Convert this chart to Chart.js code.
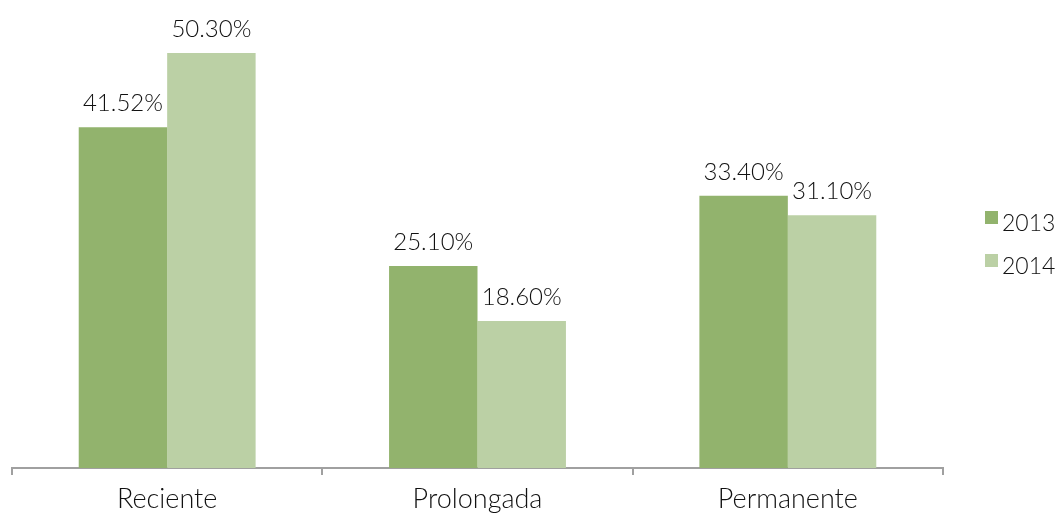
<!DOCTYPE html>
<html>
<head>
<meta charset="utf-8">
<script src="https://cdn.jsdelivr.net/npm/chart.js@4/dist/chart.umd.min.js"></script>
<style>
html,body{margin:0;padding:0;background:#fff;}
#wrap{width:1059px;height:513px;position:relative;}
</style>
</head>
<body>
<div id="wrap"><canvas id="c" width="1059" height="513"></canvas></div>
<script>
const categories = ["Reciente", "Prolongada", "Permanente"];
const seriesNames = ["2013", "2014"];
const values2013 = [41.52, 25.10, 33.40];
const values2014 = [50.30, 18.60, 31.10];
const labels2013 = ["41.52%", "25.10%", "33.40%"];
const labels2014 = ["50.30%", "18.60%", "31.10%"];

const COL13 = "#92B36D";
const COL14 = "#BBD0A5";
const FONT = "Lato, 'Open Sans', sans-serif";

const valueLabels = {
  id: "valueLabels",
  afterDatasetsDraw(chart) {
    const ctx = chart.ctx;
    const texts = [labels2013, labels2014];
    ctx.save();
    ctx.font = "300 24px " + FONT;
    ctx.fillStyle = "#111";
    ctx.textAlign = "center";
    ctx.textBaseline = "alphabetic";
    chart.data.datasets.forEach((ds, i) => {
      const meta = chart.getDatasetMeta(i);
      meta.data.forEach((bar, j) => {
        ctx.fillText(texts[i][j], bar.x, bar.y - 16);
      });
    });
    ctx.restore();
  }
};

const sideLegend = {
  id: "sideLegend",
  afterDraw(chart) {
    const ctx = chart.ctx;
    const x0 = chart.chartArea.right + 42;
    const ys = [211, 254];
    const cols = [COL13, COL14];
    ctx.save();
    ctx.font = "300 23px " + FONT;
    ctx.textBaseline = "alphabetic";
    seriesNames.forEach((n, i) => {
      ctx.fillStyle = cols[i];
      ctx.fillRect(x0, ys[i], 13, 13);
      ctx.fillStyle = "#111";
      ctx.fillText(n, x0 + 17, ys[i] + 20);
    });
    ctx.restore();
  }
};

new Chart(document.getElementById("c"), {
  type: "bar",
  data: {
    labels: categories,
    datasets: [
      { label: seriesNames[0], data: values2013, backgroundColor: COL13, borderWidth: 0 },
      { label: seriesNames[1], data: values2014, backgroundColor: COL14, borderWidth: 0 }
    ]
  },
  options: {
    responsive: false,
    animation: false,
    devicePixelRatio: 1,
    layout: { padding: { left: 12, right: 116, top: 20, bottom: 0 } },
    datasets: { bar: { barPercentage: 1.0, categoryPercentage: 0.57 } },
    plugins: { legend: { display: false }, tooltip: { enabled: false } },
    scales: {
      x: {
        offset: true,
        grid: { offset: true, drawOnChartArea: false, drawTicks: true, tickLength: 7, color: "#a0a0a0", lineWidth: 2 },
        border: { display: true, color: "#a0a0a0", width: 2 },
        ticks: { color: "#111", font: { family: FONT, size: 27, weight: "300" }, padding: 8 },
        afterFit(scale) { scale.height = 45; }
      },
      y: {
        display: false,
        min: 1.2,
        max: 54.2
      }
    }
  },
  plugins: [valueLabels, sideLegend]
});
</script>
</body>
</html>
